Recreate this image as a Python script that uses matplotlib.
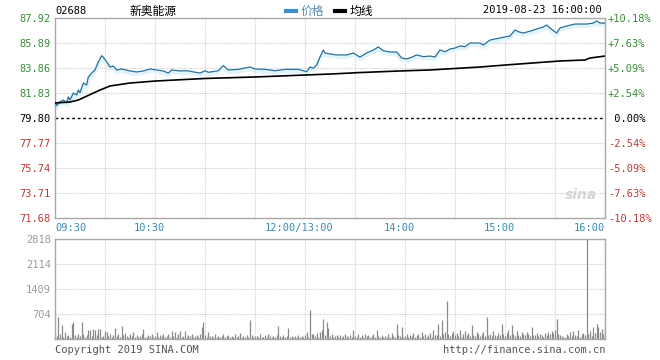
import matplotlib
matplotlib.use("Agg")
import matplotlib.pyplot as plt
from matplotlib.transforms import offset_copy, blended_transform_factory


# --- data --------------------------------------------------------------------
code = "02688"
name = "新奥能源"
stamp = "2019-08-23 16:00:00"
prev_close = 79.80

price_levels = [71.68, 73.71, 75.74, 77.77, 79.80, 81.83, 83.86, 85.89, 87.92]
pct_labels = ["-10.18%", "-7.63%", "-5.09%", "-2.54%", " 0.00%",
              "+2.54%", "+5.09%", "+7.63%", "+10.18%"]
vol_levels = [0, 704, 1409, 2114, 2818]

time_labels = ["09:30", "10:30", "12:00/13:00", "14:00", "15:00", "16:00"]
time_ticks = [0, 60, 150, 210, 270, 330]

# price line, minute index (0..330) and price
price_min = [0, 1, 3, 5, 7, 8, 9, 11, 13, 14, 15, 17, 19, 20, 22, 24, 26, 28, 29,
             31, 33, 35, 37, 40, 45, 49, 53, 57, 61, 65, 68, 70, 75, 79, 87, 90,
             92, 98, 101, 104, 110, 117, 120, 126, 132, 138, 146, 151, 153, 155,
             157, 159, 161, 162, 165, 169, 175, 179, 183, 187, 191, 194, 197,
             201, 205, 208, 211, 214, 217, 221, 225, 228, 231, 234, 237, 240,
             243, 246, 249, 255, 257, 261, 267, 273, 276, 278, 281, 286, 289,
             293, 295, 298, 301, 303, 307, 312, 319, 323, 325, 327, 330]
price_val = [81.10, 80.80, 81.12, 81.26, 81.02, 81.51, 81.26, 81.83, 81.67, 82.07,
             81.85, 82.64, 82.48, 83.13, 83.45, 83.70, 84.35, 84.86, 84.73,
             84.35, 83.94, 84.02, 83.70, 83.78, 83.62, 83.54, 83.62, 83.78,
             83.70, 83.62, 83.45, 83.70, 83.62, 83.64, 83.45, 83.64, 83.51,
             83.64, 84.06, 83.70, 83.75, 83.94, 83.78, 83.75, 83.64, 83.75,
             83.75, 83.56, 83.94, 83.84, 84.10, 84.75, 85.32, 85.08, 85.00,
             84.92, 84.92, 85.08, 84.75, 85.08, 85.32, 85.57, 85.26, 85.16,
             85.16, 84.67, 84.59, 84.73, 84.92, 84.78, 84.83, 84.75, 85.32,
             85.18, 85.40, 85.48, 85.65, 85.59, 85.89, 85.89, 85.73, 86.13,
             86.30, 86.46, 86.95, 86.81, 86.70, 86.89, 87.03, 87.19, 87.35,
             87.00, 86.70, 87.11, 87.27, 87.43, 87.43, 87.51, 87.68, 87.51, 87.51]

# average price line
avg_min = [0, 9, 14, 18, 27, 33, 45, 60, 90, 120, 150, 165, 183, 207, 225, 255,
           270, 303, 318, 321, 330]
avg_val = [81.02, 81.10, 81.26, 81.51, 82.07, 82.40, 82.64, 82.80, 83.01, 83.13,
           83.29, 83.37, 83.49, 83.62, 83.70, 83.94, 84.10, 84.43, 84.51, 84.67,
           84.83]

# per-minute volume, minutes 0..330
volume = [
    180, 90, 620, 150, 390, 60, 200, 80, 120, 70,
    420, 480, 100, 60, 150, 90, 480, 130, 70, 110,
    260, 240, 80, 280, 250, 120, 270, 280, 60, 90,
    230, 210, 80, 150, 60, 110, 310, 90, 140, 70,
    360, 120, 180, 90, 60, 150, 80, 200, 70, 110,
    60, 90, 140, 280, 70, 60, 120, 80, 150, 60,
    90, 200, 60, 110, 80, 150, 60, 90, 130, 70,
    230, 80, 200, 60, 140, 220, 70, 90, 230, 60,
    110, 80, 140, 60, 90, 120, 70, 150, 340, 480,
    120, 60, 200, 80, 90, 60, 130, 70, 80, 60,
    90, 150, 60, 80, 110, 60, 90, 70, 140, 60,
    80, 160, 60, 90, 70, 120, 60, 540, 110, 60,
    80, 90, 60, 130, 60, 70, 100, 60, 150, 80,
    60, 90, 70, 110, 360, 80, 60, 120, 70, 90,
    300, 60, 80, 70, 90, 60, 110, 60, 80, 70,
    120, 200, 60, 820, 150, 130, 90, 160, 70, 200,
    250, 560, 120, 480, 300, 90, 130, 60, 80, 100,
    70, 120, 60, 90, 140, 80, 60, 110, 70, 250,
    90, 60, 130, 70, 100, 60, 150, 80, 120, 60,
    90, 140, 70, 250, 80, 60, 110, 70, 90, 60,
    130, 70, 180, 90, 60, 420, 110, 80, 340, 70,
    90, 150, 60, 120, 80, 160, 70, 100, 130, 60,
    200, 90, 140, 70, 110, 170, 60, 250, 100, 120,
    420, 90, 540, 150, 200, 1070, 130, 90, 180, 220,
    110, 160, 90, 250, 70, 140, 230, 100, 160, 90,
    390, 120, 80, 200, 150, 90, 140, 210, 80, 620,
    110, 150, 90, 230, 120, 80, 170, 100, 420, 130,
    90, 160, 250, 110, 390, 140, 80, 220, 120, 90,
    200, 130, 110, 190, 150, 80, 340, 120, 100, 180,
    90, 140, 110, 70, 160, 120, 200, 140, 230, 180,
    250, 560, 150, 110, 90, 70, 60, 130, 90, 200,
    80, 220, 110, 90, 250, 70, 130, 160, 100, 2818,
    140, 230, 90, 330, 180, 420, 350, 200, 280, 150,
    340,
]

MONO = "DejaVu Sans Mono"
CJK = ["Noto Sans CJK SC", "DejaVu Sans"]
GREEN = "#3b8a3b"
RED = "#b83a3a"
TEAL = "#3a8db5"
FRAME = "#a8a8a8"
GRID = "#cfcfcf"


def level_color(v):
    if abs(v - prev_close) < 1e-6:
        return "black"
    return GREEN if v > prev_close else RED


def style_box(ax):
    for s in ax.spines.values():
        s.set_color(FRAME)
        s.set_linewidth(1)
    ax.tick_params(length=0)
    ax.set_xlim(0, 330)
    ax.set_xticks([])
    for m in range(30, 330, 30):
        ax.axvline(m, color=GRID, lw=0.8, ls=(0, (1, 1)), zorder=0)


fig = plt.figure(figsize=(6.6, 3.6), dpi=100)
W, H = 660, 360
ax = fig.add_axes([55 / W, 1 - 218 / H, 550 / W, 200 / H])
axv = fig.add_axes([55 / W, 1 - 339 / H, 550 / W, 100 / H])

# --- price panel -------------------------------------------------------------
style_box(ax)
ax.set_ylim(price_levels[0], price_levels[-1])
for lv in price_levels[1:-1]:
    if abs(lv - prev_close) < 1e-6:
        ax.axhline(lv, color="black", lw=1, ls=(0, (2, 2)), zorder=1)
    else:
        ax.axhline(lv, color=GRID, lw=0.8, ls=(0, (1, 1)), zorder=0)

glow = offset_copy(ax.transData, fig=fig, x=0, y=-2, units="dots")
ax.plot(price_min, price_val, color="#e0f4fc", lw=3, transform=glow, zorder=2,
        solid_capstyle="butt")
ax.plot(price_min, price_val, color="#2f6f96", lw=0.9, zorder=3)
ax.plot(avg_min, avg_val, color="black", lw=1.2, zorder=3)

ax.set_yticks(price_levels)
ax.set_yticklabels([f"{v:.2f}" for v in price_levels], fontfamily=MONO, fontsize=7.5)
ax.tick_params(axis="y", pad=3)
for lbl, v in zip(ax.get_yticklabels(), price_levels):
    lbl.set_color(level_color(v))

ax2 = ax.twinx()
ax2.set_ylim(ax.get_ylim())
ax2.set_yticks(price_levels)
ax2.set_yticklabels(pct_labels, fontfamily=MONO, fontsize=7.5)
ax2.tick_params(length=0, pad=2)
for s in ax2.spines.values():
    s.set_visible(False)
for lbl, v in zip(ax2.get_yticklabels(), price_levels):
    lbl.set_color(level_color(v))

# time labels under the price panel
tr = blended_transform_factory(ax.transData, ax.transAxes)
for t, lab in zip(time_ticks, time_labels):
    ha = "left" if t == 0 else ("right" if t == 330 else "center")
    xoff = 0 if t in (0, 330) else -3.6
    ax.text(t + xoff, -0.025, lab, transform=tr, ha=ha, va="top",
            fontfamily=MONO, fontsize=7.5, color=TEAL)

ax.text(0.985, 0.08, "sina", transform=ax.transAxes, ha="right", va="bottom",
        fontsize=10, style="italic", fontweight="bold", color="#d4d4d4", zorder=1)

# --- volume panel ------------------------------------------------------------
style_box(axv)
axv.set_ylim(0, vol_levels[-1])
for lv in vol_levels[1:-1]:
    axv.axhline(lv, color=GRID, lw=0.8, ls=(0, (1, 1)), zorder=0)
axv.vlines(range(len(volume)), 0, volume, color="#8a8a8a", lw=0.9, zorder=2)
axv.set_yticks(vol_levels[1:])
axv.set_yticklabels([str(v) for v in vol_levels[1:]], fontfamily=MONO,
                    fontsize=7.5, color="#9a9a9a")
axv.tick_params(axis="y", pad=3)

# --- header and footer -------------------------------------------------------
fig.text(55 / W, 1 - 11 / H, code, fontfamily=MONO, fontsize=7.5, va="center", ha="left")
fig.text(130 / W, 1 - 11 / H, name, family=CJK, fontsize=8.5, va="center", ha="left")
fig.lines.append(plt.Line2D([286 / W, 296 / W], [1 - 11 / H] * 2, color="#3b8fcf",
                            lw=3, transform=fig.transFigure))
fig.text(301 / W, 1 - 11 / H, "价格", family=CJK, fontsize=8.5, va="center",
         ha="left", color="#5a8bb0")
fig.lines.append(plt.Line2D([335 / W, 345 / W], [1 - 11 / H] * 2, color="black",
                            lw=3, transform=fig.transFigure))
fig.text(350 / W, 1 - 11 / H, "均线", family=CJK, fontsize=8.5, va="center",
         ha="left", color="black")
fig.text(602 / W, 1 - 10 / H, stamp, fontfamily=MONO, fontsize=7.5, va="center", ha="right")

fig.text(55 / W, 1 - 350 / H, "Copyright 2019 SINA.COM", fontfamily=MONO,
         fontsize=7.5, va="center", ha="left", color="#555555")
fig.text(605 / W, 1 - 350 / H, "http://finance.sina.com.cn", fontfamily=MONO,
         fontsize=7.5, va="center", ha="right", color="#555555")

fig.savefig("out.png", dpi=100)
